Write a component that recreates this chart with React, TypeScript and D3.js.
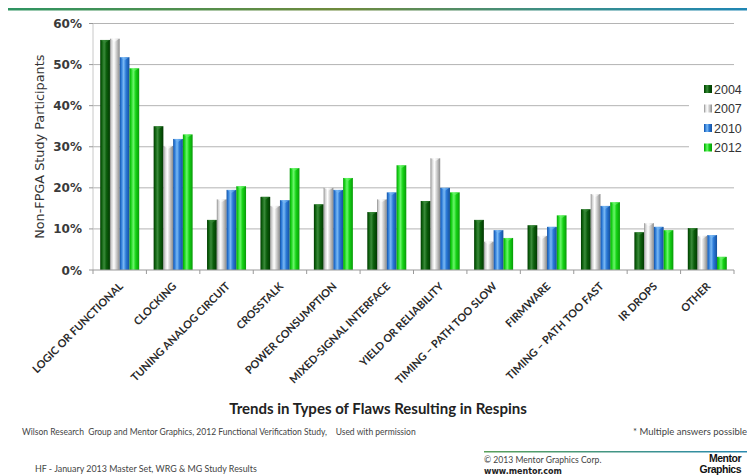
import React from "react";
import * as d3 from "d3";

const categories = [
  "LOGIC OR FUNCTIONAL",
  "CLOCKING",
  "TUNING ANALOG CIRCUIT",
  "CROSSTALK",
  "POWER CONSUMPTION",
  "MIXED-SIGNAL INTERFACE",
  "YIELD OR RELIABILITY",
  "TIMING – PATH TOO SLOW",
  "FIRMWARE",
  "TIMING – PATH TOO FAST",
  "IR DROPS",
  "OTHER",
];

const years = ["2004", "2007", "2010", "2012"];

const values2004 = [56.0, 35.0, 12.2, 17.8, 16.0, 14.1, 16.8, 12.2, 10.9, 14.8, 9.2, 10.2];
const values2007 = [56.3, 30.2, 17.2, 15.6, 20.0, 17.2, 27.2, 6.9, 8.3, 18.5, 11.4, 8.3];
const values2010 = [51.8, 31.9, 19.5, 17.0, 19.5, 18.9, 20.0, 9.7, 10.5, 15.6, 10.5, 8.5];
const values2012 = [49.1, 33.0, 20.4, 24.8, 22.4, 25.5, 18.9, 7.8, 13.3, 16.5, 9.7, 3.2];

const yTicks = [0, 10, 20, 30, 40, 50, 60];

const seriesValues = [values2004, values2007, values2010, values2012];

// base, light highlight, dark edge per series
const palette = [
  { base: "#0b5e0b", light: "#3a8a3a", dark: "#013801" },
  { base: "#cfcfcf", light: "#ffffff", dark: "#8a8a8a" },
  { base: "#2a78d6", light: "#79b9f4", dark: "#14509e" },
  { base: "#14d214", light: "#6af56a", dark: "#089a08" },
];

const W = 747;
const H = 476;
const plot = { left: 93, right: 734, top: 23.5, bottom: 270 };

export default function App() {
  const x0 = d3
    .scaleBand<string>()
    .domain(categories)
    .range([plot.left, plot.right])
    .paddingInner(0.27)
    .paddingOuter(0.135);
  const x1 = d3.scaleBand<string>().domain(years).range([0, x0.bandwidth()]).padding(0);
  const y = d3.scaleLinear().domain([0, 60]).range([plot.bottom, plot.top]);
  const step = x0.step();

  const boundaries = d3.range(categories.length + 1).map((i) => plot.left + i * step);

  return (
    <svg
      width={W}
      height={H}
      style={{ display: "block", position: "fixed", left: 0, top: 0, background: "#fff" }}
    >
      <defs>
        <linearGradient id="topRule" x1="0" x2="1" y1="0" y2="0">
          <stop offset="0" stopColor="#2e9462" />
          <stop offset="0.45" stopColor="#6f8a3c" />
          <stop offset="0.75" stopColor="#3a8f8a" />
          <stop offset="1" stopColor="#1f86b4" />
        </linearGradient>
        <linearGradient id="footRule" x1="0" x2="1" y1="0" y2="0">
          <stop offset="0" stopColor="#5aa05a" />
          <stop offset="1" stopColor="#2a8ab0" />
        </linearGradient>
        {palette.map((p, i) => (
          <linearGradient key={i} id={`bar${i}`} x1="0" x2="1" y1="0" y2="0">
            <stop offset="0" stopColor={p.dark} />
            <stop offset="0.15" stopColor={p.base} />
            <stop offset="0.4" stopColor={p.light} />
            <stop offset="0.65" stopColor={p.base} />
            <stop offset="1" stopColor={p.dark} />
          </linearGradient>
        ))}
      </defs>

      <rect x={8} y={8} width={W - 8} height={2.5} fill="url(#topRule)" />

      {/* horizontal gridlines */}
      {yTicks.slice(1).map((t) => (
        <line
          key={t}
          x1={plot.left}
          x2={plot.right}
          y1={y(t)}
          y2={y(t)}
          stroke="#b4b4b4"
          strokeWidth={1}
        />
      ))}

      {/* y axis ticks and labels */}
      <line x1={plot.left} x2={plot.left} y1={plot.top} y2={plot.bottom} stroke="#c8c8c8" />
      {yTicks.map((t) => (
        <g key={t}>
          <line x1={plot.left - 4} x2={plot.left} y1={y(t)} y2={y(t)} stroke="#999" />
          <text
            x={82}
            y={y(t) + 4.5}
            textAnchor="end"
            fontFamily="DejaVu Sans"
            fontWeight="bold"
            fontSize={12}
            fill="#3a3a3a"
          >
            {t}%
          </text>
        </g>
      ))}

      <text
        transform={`translate(44,${(plot.top + plot.bottom) / 2}) rotate(-90)`}
        textAnchor="middle"
        fontFamily="DejaVu Sans"
        fontSize={12.8}
        fill="#333"
      >
        Non-FPGA Study Participants
      </text>

      {/* bars */}
      {categories.map((c, ci) => (
        <g key={c} transform={`translate(${x0(c)},0)`}>
          {years.map((yr, si) => {
            const v = seriesValues[si][ci];
            const bx = x1(yr)!;
            const bw = x1.bandwidth();
            const top = y(v);
            return (
              <g key={yr}>
                <rect
                  x={bx}
                  y={top}
                  width={bw}
                  height={plot.bottom - top}
                  fill={`url(#bar${si})`}
                />
                <path
                  d={`M${bx + 0.5},${top} L${bx + bw - 0.5},${top} L${bx + bw / 2},${top + 3} Z`}
                  fill={palette[si].light}
                  opacity={0.6}
                />
              </g>
            );
          })}
        </g>
      ))}

      {/* x axis */}
      <line x1={plot.left} x2={plot.right} y1={plot.bottom} y2={plot.bottom} stroke="#999" />
      {boundaries.map((bx, i) => (
        <line key={i} x1={bx} x2={bx} y1={plot.bottom} y2={plot.bottom + 4} stroke="#999" />
      ))}

      {categories.map((c) => {
        const cx = x0(c)! + x0.bandwidth() / 2;
        return (
          <text
            key={c}
            transform={`translate(${cx + 4},${plot.bottom + 17}) rotate(-45)`}
            textAnchor="end"
            fontFamily="Lato"
            fontWeight="bold"
            fontSize={10.8}
            fill="#2a2a2a"
          >
            {c}
          </text>
        );
      })}

      {/* legend */}
      <rect x={689} y={76} width={58} height={82} fill="#fff" />
      {years.map((yr, i) => (
        <g key={yr} transform={`translate(704,${89 + i * 19.5})`}>
          <rect x={0} y={-4} width={8} height={8} fill={`url(#bar${i})`} />
          <text x={10} y={4.5} fontFamily="Liberation Sans" fontSize={12.5} fill="#333">
            {yr}
          </text>
        </g>
      ))}

      {/* title and notes */}
      <text
        x={378}
        y={414}
        textAnchor="middle"
        fontFamily="Lato"
        fontWeight="bold"
        fontSize={15}
        fill="#222"
      >
        Trends in Types of Flaws Resulting in Respins
      </text>
      <text x={22} y={435} fontFamily="Lato" fontSize={8.5} fill="#444" xmlSpace="preserve">
        Wilson Research  Group and Mentor Graphics, 2012 Functional Verification Study,    Used with permission
      </text>
      <text x={747} y={435} textAnchor="end" fontFamily="Lato" fontSize={9.5} fill="#444">
        * Multiple answers possible
      </text>

      <rect x={484} y={451} width={263} height={1.5} fill="url(#footRule)" />
      <text x={484} y={463} fontFamily="Lato" fontSize={8.6} fill="#444">
        © 2013 Mentor Graphics Corp.
      </text>
      <text x={484} y={474} fontFamily="DejaVu Sans" fontWeight="bold" fontSize={8} fill="#222">
        www.mentor.com
      </text>
      <text x={35} y={472} fontFamily="Lato" fontSize={8.9} fill="#444">
        HF - January 2013 Master Set, WRG &amp; MG Study Results
      </text>

      <text
        x={741}
        y={462}
        textAnchor="end"
        fontFamily="Liberation Sans"
        fontWeight="bold"
        fontSize={10.5}
        letterSpacing={-0.5}
        fill="#111"
      >
        Mentor
      </text>
      <text
        x={741}
        y={472.5}
        textAnchor="end"
        fontFamily="Liberation Sans"
        fontWeight="bold"
        fontSize={10.5}
        letterSpacing={-0.5}
        fill="#111"
      >
        Graphics
      </text>
    </svg>
  );
}
